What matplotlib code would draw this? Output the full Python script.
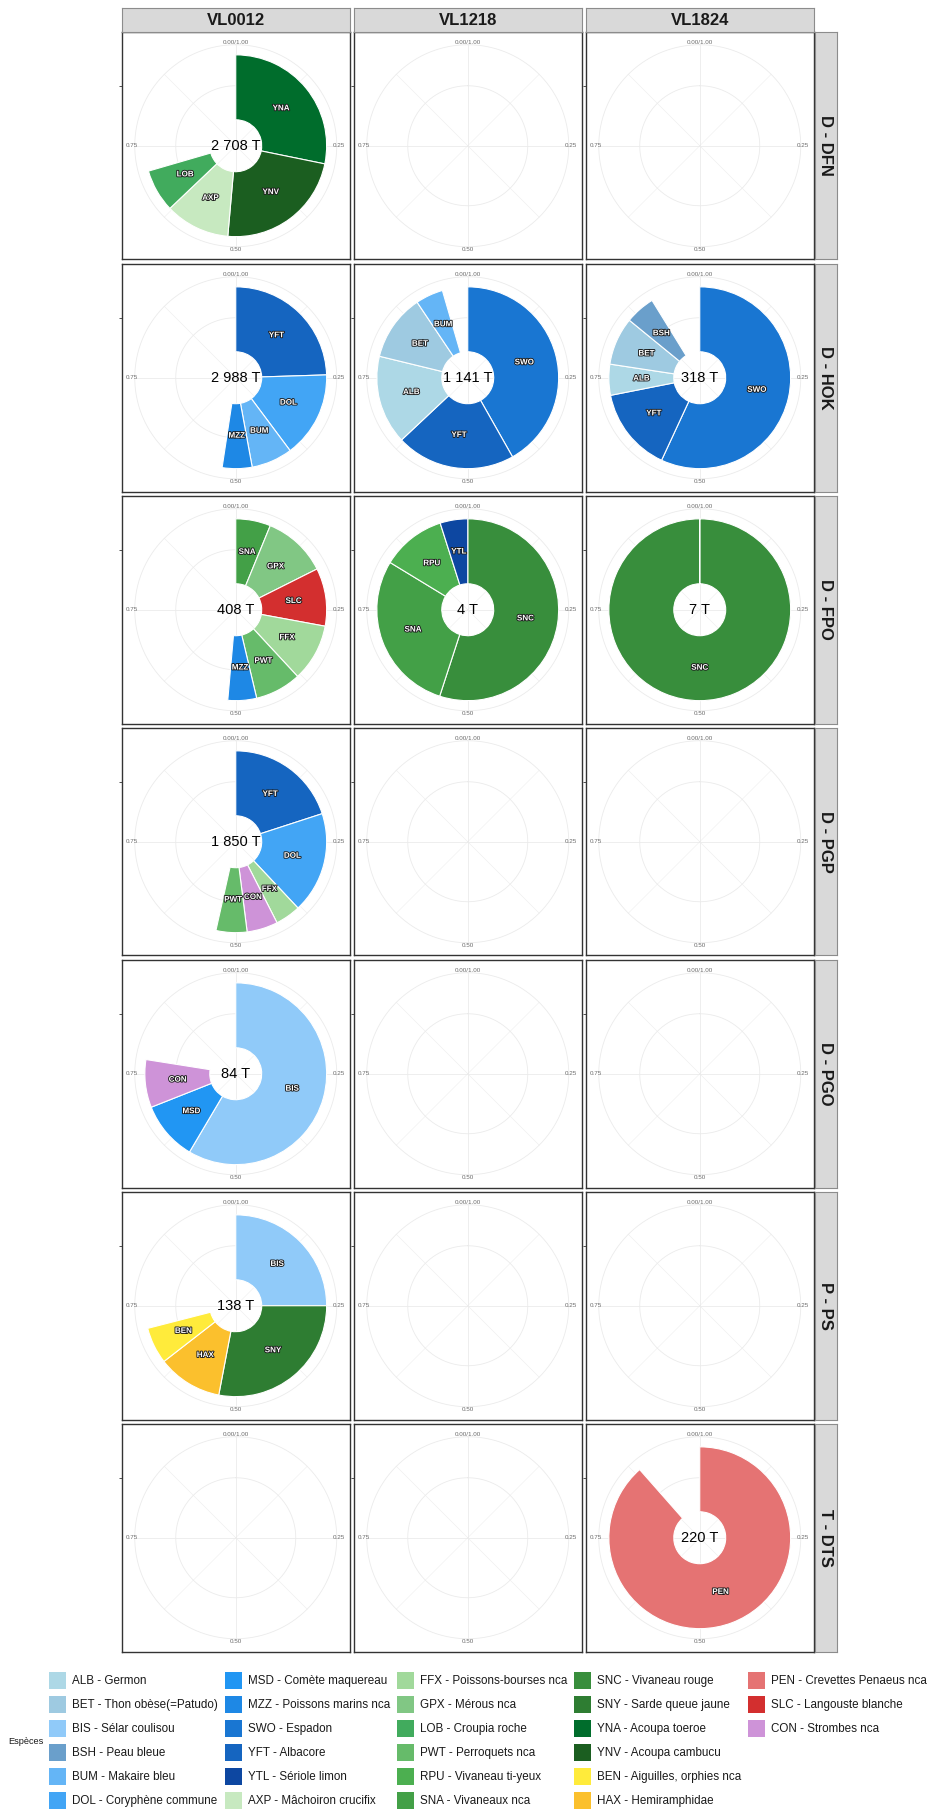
import numpy as np
import matplotlib.pyplot as plt
import matplotlib.patheffects as pe
from matplotlib.patches import Rectangle

plt.rcParams['font.family'] = ['Liberation Sans', 'DejaVu Sans']

W, H = 933, 1810

vessel_sizes = ['VL0012', 'VL1218', 'VL1824']
gears = ['D - DFN', 'D - HOK', 'D - FPO', 'D - PGP', 'D - PGO', 'P - PS', 'T - DTS']

species_codes = ['ALB', 'BET', 'BIS', 'BSH', 'BUM', 'DOL',
                 'MSD', 'MZZ', 'SWO', 'YFT', 'YTL', 'AXP',
                 'FFX', 'GPX', 'LOB', 'PWT', 'RPU', 'SNA',
                 'SNC', 'SNY', 'YNA', 'YNV', 'BEN', 'HAX',
                 'PEN', 'SLC', 'CON']
species_names = ['Germon', 'Thon obèse(=Patudo)', 'Sélar coulisou', 'Peau bleue',
                 'Makaire bleu', 'Coryphène commune',
                 'Comète maquereau', 'Poissons marins nca', 'Espadon', 'Albacore',
                 'Sériole limon', 'Mâchoiron crucifix',
                 'Poissons-bourses nca', 'Mérous nca', 'Croupia roche', 'Perroquets nca',
                 'Vivaneau ti-yeux', 'Vivaneaux nca',
                 'Vivaneau rouge', 'Sarde queue jaune', 'Acoupa toeroe', 'Acoupa cambucu',
                 'Aiguilles, orphies nca', 'Hemiramphidae',
                 'Crevettes Penaeus nca', 'Langouste blanche', 'Strombes nca']
species_colors = ['#add8e6', '#9ecae1', '#90caf9', '#6a9fcb', '#64b5f6', '#42a5f5',
                  '#2196f3', '#1e88e5', '#1976d2', '#1565c0', '#0d47a1', '#c7e9c0',
                  '#a1d99b', '#81c784', '#41ab5d', '#66bb6a', '#4caf50', '#43a047',
                  '#388e3c', '#2e7d32', '#006d2c', '#1b5e20', '#ffeb3b', '#fbc02d',
                  '#e57373', '#d32f2f', '#ce93d8']
color_of = dict(zip(species_codes, species_colors))

# share of the landings (fraction of the circle), in drawing order
dfn_0012_sp = ['YNA', 'YNV', 'AXP', 'LOB']
dfn_0012_share = [0.282, 0.232, 0.115, 0.076]

hok_0012_sp = ['YFT', 'DOL', 'BUM', 'MZZ']
hok_0012_share = [0.245, 0.153, 0.073, 0.053]
hok_1218_sp = ['SWO', 'YFT', 'ALB', 'BET', 'BUM']
hok_1218_share = [0.418, 0.212, 0.158, 0.118, 0.049]
hok_1824_sp = ['SWO', 'YFT', 'ALB', 'BET', 'BSH']
hok_1824_share = [0.569, 0.150, 0.055, 0.085, 0.053]

fpo_0012_sp = ['SNA', 'GPX', 'SLC', 'FFX', 'PWT', 'MZZ']
fpo_0012_share = [0.062, 0.114, 0.103, 0.102, 0.082, 0.051]
fpo_1218_sp = ['SNC', 'SNA', 'RPU', 'YTL']
fpo_1218_share = [0.550, 0.287, 0.114, 0.049]
fpo_1824_sp = ['SNC']
fpo_1824_share = [1.0]

pgp_0012_sp = ['YFT', 'DOL', 'FFX', 'CON', 'PWT']
pgp_0012_share = [0.200, 0.180, 0.045, 0.055, 0.055]

pgo_0012_sp = ['BIS', 'MSD', 'CON']
pgo_0012_share = [0.585, 0.105, 0.085]

ps_0012_sp = ['BIS', 'SNY', 'HAX', 'BEN']
ps_0012_share = [0.250, 0.280, 0.115, 0.065]

dts_1824_sp = ['PEN']
dts_1824_share = [0.885]

# total landed weight per panel (tonnes)
tonnes = {('D - DFN', 'VL0012'): 2708,
          ('D - HOK', 'VL0012'): 2988, ('D - HOK', 'VL1218'): 1141, ('D - HOK', 'VL1824'): 318,
          ('D - FPO', 'VL0012'): 408, ('D - FPO', 'VL1218'): 4, ('D - FPO', 'VL1824'): 7,
          ('D - PGP', 'VL0012'): 1850,
          ('D - PGO', 'VL0012'): 84,
          ('P - PS', 'VL0012'): 138,
          ('T - DTS', 'VL1824'): 220}

panels = {('D - DFN', 'VL0012'): (dfn_0012_sp, dfn_0012_share),
          ('D - HOK', 'VL0012'): (hok_0012_sp, hok_0012_share),
          ('D - HOK', 'VL1218'): (hok_1218_sp, hok_1218_share),
          ('D - HOK', 'VL1824'): (hok_1824_sp, hok_1824_share),
          ('D - FPO', 'VL0012'): (fpo_0012_sp, fpo_0012_share),
          ('D - FPO', 'VL1218'): (fpo_1218_sp, fpo_1218_share),
          ('D - FPO', 'VL1824'): (fpo_1824_sp, fpo_1824_share),
          ('D - PGP', 'VL0012'): (pgp_0012_sp, pgp_0012_share),
          ('D - PGO', 'VL0012'): (pgo_0012_sp, pgo_0012_share),
          ('P - PS', 'VL0012'): (ps_0012_sp, ps_0012_share),
          ('T - DTS', 'VL1824'): (dts_1824_sp, dts_1824_share)}

# radial layout (outer grid circle = 1)
R_HOLE = 0.257
R_BAR = 0.90
R_MID = 0.594
R_OUT = 1.0
PANEL = 227.5          # px
PITCH = 232.0          # px
LEFT, TOP = 122.0, 32.0
R_RIM = (PANEL / 2) / 101.0
GRID = '#ebebeb'


def fig_rect(x, y, w, h):
    return [x / W, 1 - (y + h) / H, w / W, h / H]


def fmt_t(t):
    return f'{t:,}'.replace(',', ' ') + ' T'


fig = plt.figure(figsize=(W / 100, H / 100), dpi=100)

for i, gear in enumerate(gears):
    for j, vs in enumerate(vessel_sizes):
        x0 = LEFT + j * PITCH
        y0 = TOP + i * PITCH
        frame = fig.add_axes(fig_rect(x0, y0, PANEL, PANEL))
        frame.set_xlim(-PANEL / 2, PANEL / 2)
        frame.set_ylim(-PANEL / 2, PANEL / 2)
        frame.set_xticks([])
        frame.set_yticks([60])
        frame.set_yticklabels([''])
        frame.tick_params(axis='y', length=2.5, width=0.6, color='#333333')
        for s in frame.spines.values():
            s.set_color('#333333')
            s.set_linewidth(1.0)

        ax = fig.add_axes(fig_rect(x0, y0, PANEL, PANEL), projection='polar')
        ax.set_facecolor('none')
        ax.set_theta_zero_location('N')
        ax.set_theta_direction(-1)
        ax.grid(False)
        ax.set_xticks([])
        ax.set_yticks([])
        ax.spines['polar'].set_visible(False)

        th = np.linspace(0, 2 * np.pi, 400)
        for r in (R_MID, R_OUT):
            ax.plot(th, np.full_like(th, r), color=GRID, lw=0.6, zorder=1)
        for k in range(8):
            t = k * np.pi / 4
            ax.plot([t, t], [0, R_OUT], color=GRID, lw=0.6 if k % 2 == 0 else 0.35, zorder=1)
        for frac, lab in [(0, '0.00/1.00'), (0.25, '0.25'), (0.5, '0.50'), (0.75, '0.75')]:
            ax.text(frac * 2 * np.pi, 1.025, lab, fontsize=4.5, color='#6b6b6b',
                    ha='center', va='center', zorder=3)

        if (gear, vs) in panels:
            codes, shares = panels[(gear, vs)]
            shares = np.array(shares)
            starts = np.concatenate([[0], np.cumsum(shares)[:-1]])
            ax.bar(starts * 2 * np.pi, R_BAR - R_HOLE, width=shares * 2 * np.pi,
                   bottom=R_HOLE, align='edge', color=[color_of[c] for c in codes],
                   edgecolor='white', linewidth=0.8, zorder=2)
            mids = (starts + shares / 2) * 2 * np.pi
            for m, c in zip(mids, codes):
                ax.text(m, (R_HOLE + R_BAR) / 2, c, fontsize=5.8, fontweight='bold',
                        color='white', ha='center', va='center', zorder=4,
                        path_effects=[pe.withStroke(linewidth=1.3, foreground='#1a1a1a')])
            ax.text(0, 0, fmt_t(tonnes[(gear, vs)]), fontsize=10.5, color='black',
                    ha='center', va='center', zorder=4)
        ax.set_ylim(0, R_RIM)

# column strips
for j, vs in enumerate(vessel_sizes):
    st = fig.add_axes(fig_rect(LEFT + j * PITCH, 8.5, PANEL, 23.5))
    st.set_facecolor('#d9d9d9')
    st.set_xticks([])
    st.set_yticks([])
    for s in st.spines.values():
        s.set_color('#8c8c8c')
        s.set_linewidth(0.8)
    st.text(0.5, 0.5, vs, transform=st.transAxes, ha='center', va='center',
            fontsize=12, fontweight='bold', color='#1a1a1a')

# row strips
for i, gear in enumerate(gears):
    st = fig.add_axes(fig_rect(LEFT + 2 * PITCH + PANEL + 1, TOP + i * PITCH, 22.5, PANEL))
    st.set_facecolor('#d9d9d9')
    st.set_xticks([])
    st.set_yticks([])
    for s in st.spines.values():
        s.set_color('#8c8c8c')
        s.set_linewidth(0.8)
    st.text(0.5, 0.5, gear, transform=st.transAxes, ha='center', va='center',
            rotation=-90, fontsize=12, fontweight='bold', color='#1a1a1a')

# legend, filled column by column
col_x = [49.3, 225.3, 397.3, 574.3, 748.0]
row_y0, row_dy = 1680.7, 24.0
sw = 17.0
for k, (code, name) in enumerate(zip(species_codes, species_names)):
    c, r = divmod(k, 6)
    x = col_x[c]
    y = row_y0 + r * row_dy
    fig.add_artist(Rectangle((x / W, 1 - (y + sw / 2) / H), sw / W, sw / H,
                             transform=fig.transFigure, facecolor=color_of[code],
                             edgecolor='none'))
    fig.text((x + sw + 6) / W, 1 - y / H, f'{code} - {name}', fontsize=8.4,
             color='#1a1a1a', ha='left', va='center')
fig.text(8.3 / W, 1 - 1741 / H, 'Espèces', fontsize=6.6, color='#1a1a1a',
         ha='left', va='center')

fig.savefig('out.png', dpi=100, facecolor='white')
